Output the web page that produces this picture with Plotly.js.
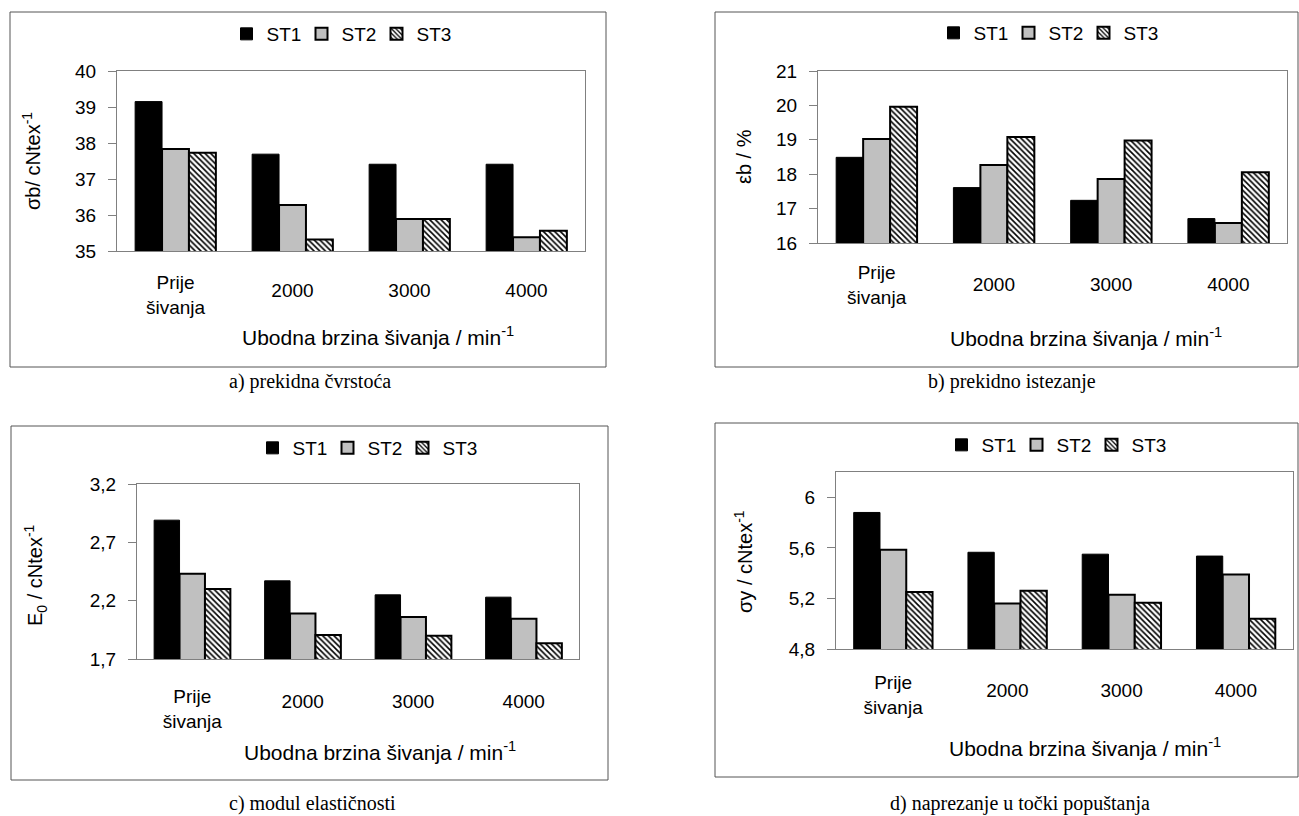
<!DOCTYPE html>
<html><head><meta charset="utf-8">
<script src="https://cdn.plot.ly/plotly-3.0.1.min.js"></script>
<style>html,body{margin:0;padding:0;background:#fff}#chart{width:1299px;height:816px}</style>
</head><body><div id="chart"></div>
<script>
// ---------- data ----------
const categories = ['Prije šivanja', '2000', '3000', '4000'];
const seriesNames = ['ST1', 'ST2', 'ST3'];
const tickLabelsFirst = ['Prije<br>šivanja'];
const tickLabelsRest = ['2000', '3000', '4000'];

// a) prekidna čvrstoća  (σb / cNtex-1)
const tenacityST1 = [39.15, 37.69, 37.41, 37.41];
const tenacityST2 = [37.83, 36.28, 35.89, 35.38];
const tenacityST3 = [37.73, 35.32, 35.89, 35.56];
// b) prekidno istezanje  (εb / %)
const elongationST1 = [18.49, 17.61, 17.24, 16.71];
const elongationST2 = [19.02, 18.27, 17.86, 16.58];
const elongationST3 = [19.96, 19.08, 18.98, 18.06];
// c) modul elastičnosti  (E0 / cNtex-1)
const modulusST1 = [2.89, 2.37, 2.25, 2.23];
const modulusST2 = [2.43, 2.09, 2.06, 2.045];
const modulusST3 = [2.30, 1.905, 1.90, 1.836];
// d) naprezanje u točki popuštanja  (σy / cNtex-1)
const yieldST1 = [5.88, 5.565, 5.55, 5.535];
const yieldST2 = [5.586, 5.16, 5.23, 5.39];
const yieldST3 = [5.25, 5.26, 5.165, 5.04];

const yTitles = ['σb/ cNtex<sup>-1</sup>', 'εb / %', 'E<sub>0</sub> / cNtex<sup>-1</sup>', 'σy / cNtex<sup>-1</sup>'];
const xTitle = 'Ubodna brzina šivanja / min<sup>-1</sup>';
const captions = ['a) prekidna čvrstoća', 'b) prekidno istezanje', 'c) modul elastičnosti', 'd) naprezanje u točki popuštanja'];

// ---------- layout helpers ----------
const W = 1299, H = 816;
const PX = v => v / W;
const PY = v => 1 - v / H;
const SANS = 'Liberation Sans, Arial, sans-serif';
const SERIF = 'Liberation Serif, Times New Roman, serif';

const panels = [
  {series: [tenacityST1, tenacityST2, tenacityST3], range: [35, 40], tick0: 35, dtick: 1,
   plot: [117, 585, 71, 251], frame: [10, 606, 12, 367], legend: [339, 34],
   labelStandoff: [14, 26],
   ytitle: [32, 161], xtitle: [378, 336], caption: [310, 381]},
  {series: [elongationST1, elongationST2, elongationST3], range: [16, 21], tick0: 16, dtick: 1,
   plot: [818, 1287, 71, 243], frame: [715, 1298, 12, 367], legend: [1046, 33],
   labelStandoff: [12, 28],
   ytitle: [744, 157], xtitle: [1086, 337], caption: [1012, 381]},
  {series: [modulusST1, modulusST2, modulusST3], range: [1.7, 3.2], tick0: 1.7, dtick: 0.5,
   plot: [137, 579, 484, 659], frame: [11, 608, 426, 780], legend: [365, 448],
   labelStandoff: [20, 29],
   ytitle: [35, 575], xtitle: [380, 751], caption: [312, 803]},
  {series: [yieldST1, yieldST2, yieldST3], range: [4.8, 6.2], tick0: 4.8, dtick: 0.4,
   plot: [836, 1293, 472, 649], frame: [715, 1298, 423, 777], legend: [1054, 445],
   labelStandoff: [16, 28],
   ytitle: [743, 562], xtitle: [1085, 747], caption: [1020, 803]}
];

const seriesStyles = [
  {color: '#000000', line: {color: '#000000', width: 1}},
  {color: '#c0c0c0', line: {color: '#000000', width: 2}},
  {color: '#ffffff', line: {color: '#000000', width: 2},
   pattern: {shape: '\\', fgcolor: '#000000', bgcolor: '#ffffff', size: 4, solidity: 0.4, fillmode: 'replace'}}
];

const traces = [];
const layout = {
  width: W, height: H,
  margin: {l: 0, r: 0, t: 0, b: 0},
  paper_bgcolor: '#ffffff', plot_bgcolor: '#ffffff',
  font: {family: SANS, size: 19, color: '#000000'},
  separators: ',.',
  barmode: 'group', bargap: 0.31, bargroupgap: 0,
  showlegend: true,
  shapes: [], annotations: []
};

panels.forEach((p, i) => {
  const n = i + 1;
  const xName = n === 1 ? 'xaxis' : 'xaxis' + n;
  const yName = n === 1 ? 'yaxis' : 'yaxis' + n;
  const xRef = n === 1 ? 'x' : 'x' + n;
  const yRef = n === 1 ? 'y' : 'y' + n;
  const legName = n === 1 ? 'legend' : 'legend' + n;
  const overName = 'xaxis' + (n + 4);
  const overRef = 'x' + (n + 4);

  p.series.forEach((vals, s) => {
    const st = seriesStyles[s];
    const marker = {color: st.color, line: st.line};
    if (st.pattern) marker.pattern = st.pattern;
    traces.push({
      type: 'bar', x: categories, y: vals, name: seriesNames[s],
      xaxis: xRef, yaxis: yRef, legend: legName, marker: marker,
      hoverinfo: 'y+name'
    });
  });
  // empty helper trace so the overlay label axis gets its own subplot
  traces.push({type: 'scatter', mode: 'markers', x: [], y: [], xaxis: overRef, yaxis: yRef,
    showlegend: false, hoverinfo: 'skip'});

  layout[xName] = {
    domain: [PX(p.plot[0]), PX(p.plot[1])], anchor: yRef, type: 'category',
    range: [-0.5, 3.5], showline: true, mirror: true, linecolor: '#808080', linewidth: 1,
    showgrid: false, zeroline: false, ticks: '',
    tickmode: 'array', tickvals: [categories[0]], ticktext: tickLabelsFirst,
    ticklabelstandoff: p.labelStandoff[0], tickfont: {size: 19}, fixedrange: true
  };
  layout[overName] = {
    visible: true, overlaying: xRef, anchor: yRef, type: 'linear', range: [-0.5, 3.5],
    showline: false, showgrid: false, zeroline: false, ticks: '',
    tickmode: 'array', tickvals: [1, 2, 3], ticktext: tickLabelsRest,
    ticklabelstandoff: p.labelStandoff[1], tickfont: {size: 19}, fixedrange: true
  };
  layout[yName] = {
    domain: [PY(p.plot[3]), PY(p.plot[2])], anchor: xRef,
    range: p.range, tick0: p.tick0, dtick: p.dtick, tickmode: 'linear',
    showline: true, mirror: true, linecolor: '#808080', linewidth: 1,
    ticks: 'outside', ticklen: 8, tickcolor: '#808080', tickwidth: 1,
    ticklabelstandoff: 8,
    showgrid: false, zeroline: false, tickfont: {size: 19}, fixedrange: true
  };
  layout[legName] = {
    orientation: 'h', x: PX(p.legend[0]), y: PY(p.legend[1]),
    xanchor: 'center', yanchor: 'middle', font: {size: 19},
    entrywidth: 30, entrywidthmode: 'pixels',
    bgcolor: 'rgba(0,0,0,0)', traceorder: 'normal', itemclick: false, itemdoubleclick: false
  };

  layout.shapes.push({type: 'rect', xref: 'paper', yref: 'paper',
    x0: PX(p.frame[0]), x1: PX(p.frame[1]), y0: PY(p.frame[3]), y1: PY(p.frame[2]),
    line: {color: '#555555', width: 1}, fillcolor: 'rgba(0,0,0,0)', layer: 'below'});

  layout.annotations.push({xref: 'paper', yref: 'paper', x: PX(p.ytitle[0]), y: PY(p.ytitle[1]),
    text: yTitles[i], textangle: -90, showarrow: false, xanchor: 'center', yanchor: 'middle',
    font: {size: 20, family: SANS}});
  layout.annotations.push({xref: 'paper', yref: 'paper', x: PX(p.xtitle[0]), y: PY(p.xtitle[1]),
    text: xTitle, showarrow: false, xanchor: 'center', yanchor: 'middle',
    font: {size: 21, family: SANS}});
  layout.annotations.push({xref: 'paper', yref: 'paper', x: PX(p.caption[0]), y: PY(p.caption[1]),
    text: captions[i], showarrow: false, xanchor: 'center', yanchor: 'middle',
    font: {size: 20, family: SERIF}});
});

Plotly.newPlot('chart', traces, layout, {staticPlot: true, displayModeBar: false});
</script>
</body></html>
